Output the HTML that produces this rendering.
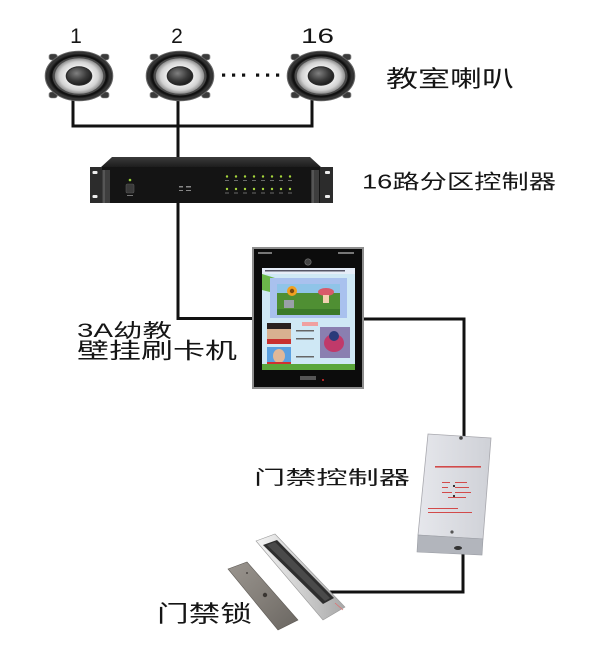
<!DOCTYPE html>
<html><head><meta charset="utf-8"><style>
html,body{margin:0;padding:0;background:#fff;}
svg{display:block;}
text{font-family:"Liberation Sans","Noto Sans CJK SC",sans-serif;fill:#151515;}
</style></head><body>
<svg width="600" height="664" viewBox="0 0 600 664" xmlns="http://www.w3.org/2000/svg">
<defs>
<radialGradient id="cone" cx="0.5" cy="0.5" r="0.5">
<stop offset="0.5" stop-color="#f2f2f2"/><stop offset="0.8" stop-color="#d2d2d2"/><stop offset="1" stop-color="#8c8c8c"/>
</radialGradient>
<radialGradient id="dome" cx="0.4" cy="0.35" r="0.7">
<stop offset="0" stop-color="#808080"/><stop offset="0.6" stop-color="#3a3a3a"/><stop offset="1" stop-color="#1a1a1a"/>
</radialGradient>
<radialGradient id="surr" cx="0.5" cy="0.5" r="0.5">
<stop offset="0.75" stop-color="#2a2a2a"/><stop offset="0.9" stop-color="#0e0e0e"/><stop offset="1" stop-color="#3a3a3a"/>
</radialGradient>
<linearGradient id="ctrl" x1="0" y1="0" x2="1" y2="0">
<stop offset="0" stop-color="#e6e7ec"/><stop offset="1" stop-color="#cfd1d7"/>
</linearGradient>
<linearGradient id="mag" x1="0" y1="0" x2="1" y2="0">
<stop offset="0" stop-color="#f4f4f4"/><stop offset="0.5" stop-color="#d0d0d0"/><stop offset="1" stop-color="#a8a8a8"/>
</linearGradient>
<linearGradient id="plate" x1="0" y1="0" x2="1" y2="1">
<stop offset="0" stop-color="#9a958f"/><stop offset="0.5" stop-color="#847f79"/><stop offset="1" stop-color="#6a6661"/>
</linearGradient>
<linearGradient id="rackTop" x1="0" y1="0" x2="0" y2="1">
<stop offset="0" stop-color="#3a3a3a"/><stop offset="1" stop-color="#1a1a1a"/>
</linearGradient>
<g id="spk">
<rect x="-22" y="-22" width="6" height="6" rx="2" fill="#3a3a3a" stroke="#888" stroke-width="0.6"/>
<rect x="16" y="-22" width="6" height="6" rx="2" fill="#3a3a3a" stroke="#888" stroke-width="0.6"/>
<rect x="-22" y="16" width="6" height="6" rx="2" fill="#3a3a3a" stroke="#888" stroke-width="0.6"/>
<rect x="16" y="16" width="6" height="6" rx="2" fill="#3a3a3a" stroke="#888" stroke-width="0.6"/>
<circle r="24.8" fill="#333" stroke="#666" stroke-width="0.8"/>
<circle r="23" fill="url(#surr)"/>
<circle r="19.5" fill="#4a4a4a"/>
<circle r="17.8" fill="url(#cone)"/>
<circle r="9.8" fill="#2a2a2a"/>
<circle r="8.8" fill="url(#dome)"/>
</g>
</defs>

<!-- wires -->
<g stroke="#111" stroke-width="3" fill="none" stroke-linejoin="miter">
<path d="M73,98 V126 H312 V98"/>
<path d="M178,98 V160"/>
<path d="M178,200 V318.5 H256"/>
<path d="M360,319 H464 V438"/>
<path d="M463,550 V592 H330"/>
</g>

<!-- labels top -->
<text x="76" y="43" font-size="21" text-anchor="middle">1</text>
<text x="177" y="43" font-size="21" text-anchor="middle">2</text>
<text x="301" y="43" font-size="21" textLength="33" lengthAdjust="spacingAndGlyphs">16</text>

<!-- speakers -->
<g transform="translate(79,76) scale(1.36,1)"><use href="#spk"/></g>
<g transform="translate(180,76) scale(1.36,1)"><use href="#spk"/></g>
<g transform="translate(321,76) scale(1.36,1)"><use href="#spk"/></g>

<!-- dots -->
<g fill="#111">
<rect x="222" y="73.5" width="3.2" height="3.2"/>
<rect x="232" y="73.5" width="3.2" height="3.2"/>
<rect x="242" y="73.5" width="3.2" height="3.2"/>
<rect x="256" y="73.5" width="3.2" height="3.2"/>
<rect x="266" y="73.5" width="3.2" height="3.2"/>
<rect x="276" y="73.5" width="3.2" height="3.2"/>
</g>

<text x="386" y="86.5" font-size="23" textLength="128" lengthAdjust="spacingAndGlyphs">教室喇叭</text>

<!-- rack -->
<polygon points="112,157 310,157 322,168 100,168" fill="url(#rackTop)"/>
<rect x="100" y="167" width="222" height="36" fill="#141414"/>
<rect x="90" y="167" width="12" height="36" fill="#2c2c2c"/>
<rect x="320" y="167" width="13" height="36" fill="#2c2c2c"/>
<rect x="92.5" y="171" width="5" height="3" rx="1" fill="#eee"/>
<rect x="92.5" y="195" width="5" height="3" rx="1" fill="#eee"/>
<rect x="325" y="171" width="5" height="3" rx="1" fill="#eee"/>
<rect x="325" y="195" width="5" height="3" rx="1" fill="#eee"/>
<rect x="102" y="170" width="8" height="33" fill="#3e3e3e"/>
<rect x="311" y="170" width="8" height="33" fill="#3e3e3e"/>
<rect x="103" y="170" width="2" height="33" fill="#555"/>
<rect x="312" y="170" width="2" height="33" fill="#555"/>
<circle cx="130" cy="180" r="1.3" fill="#9bd43a"/>
<rect x="126" y="184" width="8" height="9" rx="1.5" fill="#3a3a3a" stroke="#555" stroke-width="0.6"/>
<rect x="127" y="195" width="6" height="1" fill="#777"/>
<g fill="#888">
<rect x="179" y="186" width="4" height="1.5"/><rect x="186" y="186" width="5" height="1.5"/>
<rect x="179" y="190" width="4" height="1"/><rect x="186" y="190" width="5" height="1"/>
</g>
<g>
<circle cx="227" cy="176.5" r="1.2" fill="#a6d63c"/><circle cx="236" cy="176.5" r="1.2" fill="#a6d63c"/>
<circle cx="245" cy="176.5" r="1.2" fill="#a6d63c"/><circle cx="254" cy="176.5" r="1.2" fill="#a6d63c"/>
<circle cx="263" cy="176.5" r="1.2" fill="#a6d63c"/><circle cx="272" cy="176.5" r="1.2" fill="#a6d63c"/>
<circle cx="281" cy="176.5" r="1.2" fill="#a6d63c"/><circle cx="290" cy="176.5" r="1.2" fill="#a6d63c"/>
<circle cx="227" cy="189" r="1.2" fill="#a6d63c"/><circle cx="236" cy="189" r="1.2" fill="#a6d63c"/>
<circle cx="245" cy="189" r="1.2" fill="#a6d63c"/><circle cx="254" cy="189" r="1.2" fill="#a6d63c"/>
<circle cx="263" cy="189" r="1.2" fill="#a6d63c"/><circle cx="272" cy="189" r="1.2" fill="#a6d63c"/>
<circle cx="281" cy="189" r="1.2" fill="#a6d63c"/><circle cx="290" cy="189" r="1.2" fill="#a6d63c"/>
</g>
<g fill="#6a6a6a">
<rect x="225" y="180" width="4" height="1"/><rect x="234" y="180" width="4" height="1"/><rect x="243" y="180" width="4" height="1"/><rect x="252" y="180" width="4" height="1"/>
<rect x="261" y="180" width="4" height="1"/><rect x="270" y="180" width="4" height="1"/><rect x="279" y="180" width="4" height="1"/><rect x="288" y="180" width="4" height="1"/>
<rect x="225" y="192.5" width="4" height="1"/><rect x="234" y="192.5" width="4" height="1"/><rect x="243" y="192.5" width="4" height="1"/><rect x="252" y="192.5" width="4" height="1"/>
<rect x="261" y="192.5" width="4" height="1"/><rect x="270" y="192.5" width="4" height="1"/><rect x="279" y="192.5" width="4" height="1"/><rect x="288" y="192.5" width="4" height="1"/>
</g>

<text x="362" y="188.5" font-size="20" textLength="194" lengthAdjust="spacingAndGlyphs">16路分区控制器</text>

<!-- card machine -->
<rect x="252" y="247" width="112" height="142" fill="#8e8e8e"/>
<rect x="254" y="249" width="108" height="138" fill="#0c0c0c"/>
<rect x="258" y="252" width="14" height="2" fill="#777"/>
<rect x="338" y="252" width="16" height="2" fill="#777"/>
<circle cx="308" cy="262" r="3.2" fill="#444" stroke="#777" stroke-width="0.6"/>
<rect x="262" y="268" width="93" height="102" fill="#cfe8f5"/>
<rect x="262" y="268" width="93" height="6" fill="#e6edf8"/>
<rect x="265" y="270" width="80" height="1.5" fill="#556"/>
<polygon points="262,274 275,278 270,292 262,290" fill="#6bb84a"/>
<rect x="270" y="278" width="77" height="40" fill="#a9c1ee"/>
<rect x="277" y="284" width="63" height="31" fill="#4f8f33"/>
<rect x="277" y="284" width="63" height="9" fill="#8fc4e8"/>
<circle cx="292" cy="291" r="5" fill="#f0a020"/>
<circle cx="292" cy="291" r="2.2" fill="#7a4a10"/>
<ellipse cx="326" cy="292" rx="8" ry="4" fill="#d85a6a"/>
<rect x="323" y="295" width="6" height="8" fill="#f3d0b0"/>
<rect x="284" y="300" width="10" height="8" fill="#9aa0a8"/>
<rect x="277" y="309" width="63" height="6" fill="#3c7a2a"/>
<rect x="267" y="323" width="24" height="21" fill="#d8b090"/>
<rect x="267" y="323" width="24" height="6" fill="#2a2020"/>
<rect x="267" y="339" width="24" height="5" fill="#c83030"/>
<rect x="267" y="347" width="24" height="21" fill="#5aa0e0"/>
<ellipse cx="279" cy="356" rx="6" ry="7" fill="#e0b898"/>
<rect x="267" y="362" width="24" height="6" fill="#d03030"/>
<g fill="#666">
<rect x="296" y="330" width="18" height="1.5"/><rect x="296" y="338" width="18" height="1.5"/>
<rect x="296" y="356" width="18" height="1.5"/><rect x="296" y="366" width="22" height="1.5"/>
</g>
<rect x="302" y="322" width="16" height="4" fill="#f0a0a0"/>
<rect x="320" y="327" width="30" height="31" fill="#8a7fb0"/>
<ellipse cx="334" cy="343" rx="10" ry="9" fill="#c03a6a"/>
<ellipse cx="334" cy="336" rx="5" ry="5" fill="#2a3a7a"/>
<rect x="262" y="364" width="93" height="6" fill="#5aa63a"/>
<rect x="300" y="376" width="16" height="4" fill="#555"/>
<circle cx="323" cy="380" r="1" fill="#e03030"/>

<text x="77" y="337" font-size="19" textLength="95" lengthAdjust="spacingAndGlyphs">3A幼教</text>
<text x="77" y="358.5" font-size="22" textLength="160" lengthAdjust="spacingAndGlyphs">壁挂刷卡机</text>

<!-- controller -->
<polygon points="428,434 491,438 483,539 418,535" fill="url(#ctrl)" stroke="#a8a8ae" stroke-width="0.8"/>
<polygon points="418,535 483,539 482,555 417,552" fill="#b2b5bc" stroke="#9a9da4" stroke-width="0.6"/>
<circle cx="461" cy="438" r="1.8" fill="#444"/>
<circle cx="452" cy="532" r="1.6" fill="#555"/>
<ellipse cx="458" cy="548" rx="4" ry="2" fill="#333"/>
<g fill="#d24a4a">
<rect x="435" y="466" width="46" height="1.6"/>
<rect x="442" y="482" width="8" height="1"/><rect x="455" y="482" width="12" height="1"/>
<rect x="442" y="487" width="6" height="1"/><rect x="455" y="487" width="14" height="1"/>
<rect x="442" y="492" width="10" height="1"/><rect x="455" y="492" width="16" height="1"/>
<rect x="448" y="497" width="18" height="1"/>
<rect x="428" y="508" width="30" height="1"/><rect x="428" y="512" width="44" height="1"/>
</g>
<rect x="453" y="485" width="2" height="2" fill="#333"/>
<rect x="453" y="495" width="2" height="2" fill="#333"/>

<text x="254" y="484" font-size="19" textLength="156" lengthAdjust="spacingAndGlyphs">门禁控制器</text>

<!-- lock -->
<polygon points="228,569 247,562 298,620 278,630" fill="url(#plate)" stroke="#5e5a55" stroke-width="0.6"/>
<circle cx="265" cy="595" r="2.2" fill="#3a3632"/>
<circle cx="247" cy="573" r="1" fill="#4a4642"/>
<polygon points="256,541 275,534 345,607 323,620" fill="url(#mag)" stroke="#9a9a9a" stroke-width="0.6"/>
<polygon points="263,545 277,540 334,598 323,604" fill="#2e2e2e"/>
<polygon points="267,545 275,542 330,598 325,601" fill="#4a4a4a"/>
<line x1="335" y1="603" x2="343" y2="610" stroke="#e07070" stroke-width="0.8"/>

<text x="157" y="621.5" font-size="23" textLength="95" lengthAdjust="spacingAndGlyphs">门禁锁</text>
</svg>
</body></html>
